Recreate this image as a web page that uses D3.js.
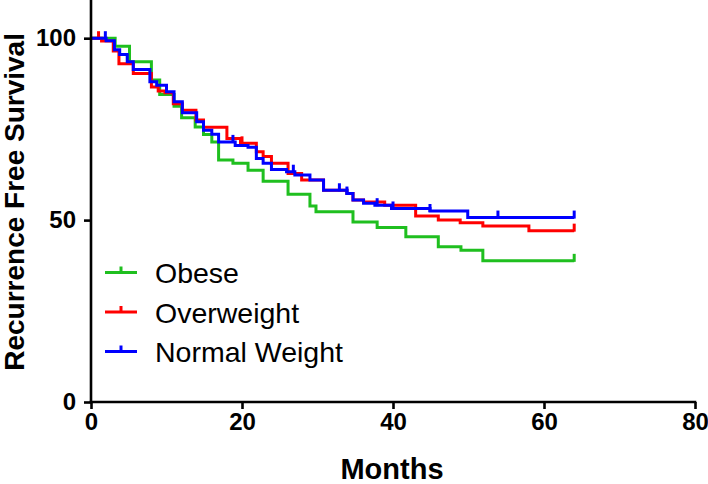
<!DOCTYPE html>
<html>
<head>
<meta charset="utf-8">
<script src="https://cdn.jsdelivr.net/npm/d3@7"></script>
<style>
  html, body { margin: 0; padding: 0; background: #fff; }
  svg { display: block; }
</style>
</head>
<body>
<svg id="chart" width="708" height="484"></svg>
<script>
// ---------- data ----------
const seriesNames = ["Obese", "Overweight", "Normal Weight"];

const obeseTimes = [0, 3.2, 5.1, 8.0, 9.1, 11.0, 12.0, 13.8, 14.9, 16.0, 16.9, 18.8, 20.8, 22.8, 26.1, 29.0, 29.8, 34.7, 37.9, 41.7, 46.0, 49.0, 51.9, 64];
const obeseSurv  = [100, 97.8, 93.5, 88.5, 84.5, 81.3, 78.1, 75.6, 73.5, 71.5, 66.5, 65.6, 63.7, 60.7, 57.1, 53.9, 52.3, 49.5, 48.0, 45.4, 42.7, 41.7, 38.8, 38.8];
const obeseCensor = [64];

const overTimes = [0, 1.4, 2.95, 3.7, 5.6, 8.0, 8.9, 9.8, 10.9, 12.1, 13.9, 14.9, 18.0, 19.8, 21.9, 22.8, 23.9, 26.1, 27.9, 30.8, 33.9, 34.7, 36.1, 38.9, 43.0, 46.0, 48.9, 51.9, 58.0, 64];
const overSurv  = [100, 99.2, 96.5, 93.0, 90.3, 86.6, 85.5, 85.0, 82.0, 80.2, 77.5, 75.5, 72.4, 71.1, 68.8, 67.5, 65.6, 62.8, 61.0, 58.2, 57.3, 55.5, 55.0, 54.1, 51.1, 50.0, 49.3, 48.4, 47.1, 47.1];
const overCensor = [1.0, 20.0, 64];

const normalTimes = [0, 2.0, 3.1, 3.8, 4.8, 5.6, 7.8, 8.7, 10.0, 11.0, 12.1, 14.0, 14.9, 16.0, 16.9, 19.1, 20.8, 21.9, 22.8, 23.9, 25.9, 27.0, 29.0, 30.8, 33.9, 34.7, 36.1, 37.6, 39.8, 44.9, 49.9, 64];
const normalSurv  = [100, 99.3, 96.8, 95.5, 93.5, 91.4, 88.0, 87.1, 85.3, 82.5, 79.5, 77.0, 74.7, 73.6, 71.5, 70.5, 70.0, 66.9, 65.6, 63.9, 63.3, 62.4, 61.0, 58.2, 57.3, 55.5, 54.6, 54.1, 53.2, 52.5, 50.7, 50.7];
const normalCensor = [1.9, 18.8, 26.8, 32.9, 33.9, 37.9, 40.0, 44.9, 53.9, 64];

const seriesColors = ["#1fbf1f", "#ff0000", "#0000ff"];

const xTicks = [0, 20, 40, 60, 80];
const yTicks = [0, 50, 100];
const xTitle = "Months";
const yTitle = "Recurrence Free Survival";

// ---------- build ----------
const series = [
  { name: seriesNames[0], t: obeseTimes, s: obeseSurv, c: obeseCensor, color: seriesColors[0] },
  { name: seriesNames[1], t: overTimes, s: overSurv, c: overCensor, color: seriesColors[1] },
  { name: seriesNames[2], t: normalTimes, s: normalSurv, c: normalCensor, color: seriesColors[2] }
];

const svg = d3.select("#chart");
const x = d3.scaleLinear().domain([0, 80]).range([91, 695]);
const y = d3.scaleLinear().domain([0, 110.5]).range([402, 0]);

const font = "'Liberation Sans', Arial, Helvetica, sans-serif";
const narrowFont = "'Liberation Sans Narrow', 'Arial Narrow', 'Liberation Sans', Arial, sans-serif";

// curves
const line = d3.line().x(d => x(d[0])).y(d => y(d[1])).curve(d3.curveStepAfter);
function survAt(sr, t) {
  let v = sr.s[0];
  for (let i = 0; i < sr.t.length; i++) { if (sr.t[i] <= t + 1e-9) v = sr.s[i]; }
  return v;
}
series.forEach(sr => {
  const pts = sr.t.map((t, i) => [t, sr.s[i]]);
  svg.append("path")
    .attr("d", line(pts))
    .attr("fill", "none")
    .attr("stroke", sr.color)
    .attr("stroke-width", 3)
    .attr("stroke-linejoin", "miter");
  svg.append("g").selectAll("line").data(sr.c).join("line")
    .attr("x1", d => x(d)).attr("x2", d => x(d))
    .attr("y1", d => y(survAt(sr, d)) + 1)
    .attr("y2", d => y(survAt(sr, d)) - 7)
    .attr("stroke", sr.color)
    .attr("stroke-width", 3);
});

// axes
const xAxis = svg.append("g")
  .attr("transform", `translate(0,${y(0)})`)
  .call(d3.axisBottom(x).tickValues(xTicks).tickSize(7).tickSizeOuter(0).tickPadding(4).tickFormat(d3.format("d")));
const yAxis = svg.append("g")
  .attr("transform", `translate(${x(0)},0)`)
  .call(d3.axisLeft(y).tickValues(yTicks).tickSize(7).tickSizeOuter(0).tickPadding(8).tickFormat(d3.format("d")));

[xAxis, yAxis].forEach(g => {
  g.select(".domain").attr("stroke", "#000").attr("stroke-width", 2.6);
  g.selectAll(".tick line").attr("stroke", "#000").attr("stroke-width", 2.6);
  g.selectAll(".tick text")
    .attr("fill", "#000")
    .style("font-family", narrowFont)
    .style("font-weight", "bold")
    .style("font-size", "24px");
});
// y axis line extends to top
yAxis.select(".domain").attr("d", `M0,${y(0) + 1.3}V0`);
xAxis.select(".domain").attr("d", `M${x(0) - 1.3},0H${x(80) + 1.3}`);

// titles
svg.append("text")
  .attr("x", (x(0) + x(80)) / 2 - 1)
  .attr("y", 479)
  .attr("text-anchor", "middle")
  .style("font-family", font).style("font-weight", "bold").style("font-size", "29px")
  .text(xTitle);
svg.append("text")
  .attr("transform", `translate(24,${y(55)}) rotate(-90)`)
  .attr("text-anchor", "middle")
  .style("font-family", font).style("font-weight", "bold").style("font-size", "28px")
  .text(yTitle);

// legend
const legend = svg.append("g");
series.forEach((sr, i) => {
  const by = 283 + i * 39.5;
  const ly = by - 10.5;
  legend.append("line").attr("x1", 105).attr("x2", 137).attr("y1", ly).attr("y2", ly)
    .attr("stroke", sr.color).attr("stroke-width", 3);
  legend.append("line").attr("x1", 121).attr("x2", 121).attr("y1", ly + 1).attr("y2", ly - 6)
    .attr("stroke", sr.color).attr("stroke-width", 3);
  legend.append("text").attr("x", 155).attr("y", by)
    .style("font-family", font).style("font-size", "28.5px").attr("fill", "#000")
    .text(sr.name);
});
</script>
</body>
</html>
